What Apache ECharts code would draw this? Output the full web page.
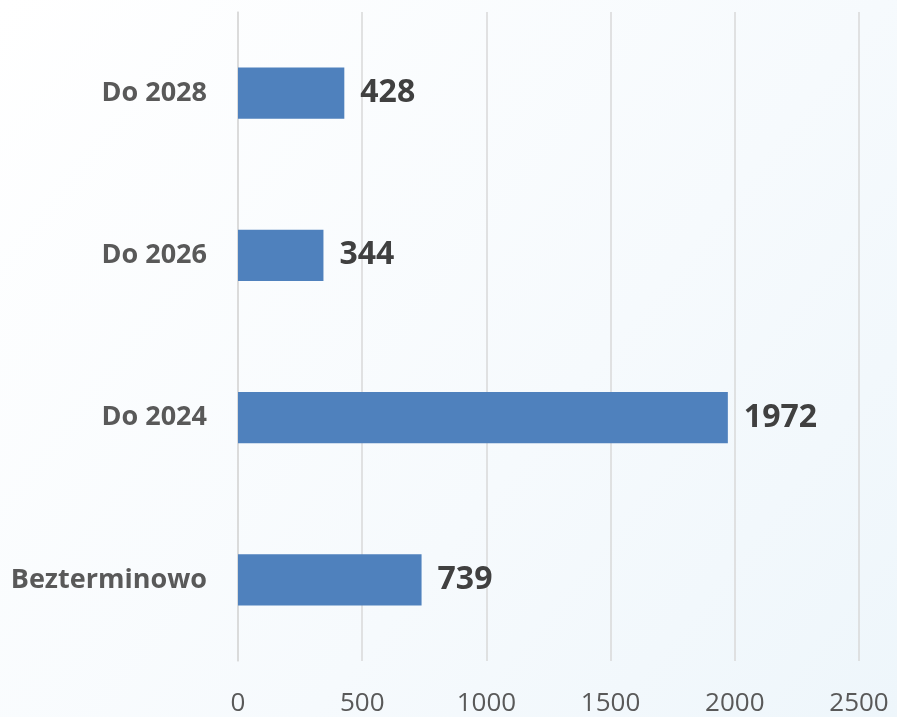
<!DOCTYPE html>
<html>
<head>
<meta charset="utf-8">
<script src="https://cdn.jsdelivr.net/npm/echarts@6/dist/echarts.min.js"></script>
<style>html,body{margin:0;padding:0;background:#fff;}#c{width:897px;height:717px;}</style>
</head>
<body>
<div id="c"></div>
<script>
var categories = ['Bezterminowo', 'Do 2024', 'Do 2026', 'Do 2028'];
var values = [739, 1972, 344, 428];
var xTicks = [0, 500, 1000, 1500, 2000, 2500];

var chart = echarts.init(document.getElementById('c'));
chart.setOption({
  backgroundColor: new echarts.graphic.LinearGradient(0, 0, 1, 1, [
    {offset: 0, color: '#ffffff'},
    {offset: 0.6, color: '#f6fafd'},
    {offset: 1, color: '#eef6fb'}
  ]),
  animation: false,
  grid: {left: 238, right: 38, top: 12, bottom: 56, containLabel: false},
  xAxis: {
    type: 'value',
    min: xTicks[0],
    max: xTicks[xTicks.length - 1],
    interval: 500,
    axisLine: {show: false},
    axisTick: {show: false},
    splitLine: {show: true, lineStyle: {color: '#d9d9d9', width: 1.5}},
    axisLabel: {margin: 30, color: '#595959', fontSize: 26, fontFamily: 'Open Sans',
      formatter: function (v) { return String(v); }}
  },
  yAxis: {
    type: 'category',
    data: categories,
    axisLine: {show: true, lineStyle: {color: '#d9d9d9', width: 1.5}},
    axisTick: {show: false},
    axisLabel: {margin: 31, color: '#595959', fontSize: 27, fontWeight: 'bold', fontFamily: 'Open Sans'}
  },
  series: [{
    type: 'bar',
    data: values,
    barCategoryGap: '68.5%',
    itemStyle: {color: '#4f81bd'},
    label: {
      show: true,
      position: 'right',
      distance: 16,
      color: '#404040',
      fontSize: 32,
      fontWeight: 'bold',
      fontFamily: 'Open Sans'
    }
  }]
});
</script>
</body>
</html>
